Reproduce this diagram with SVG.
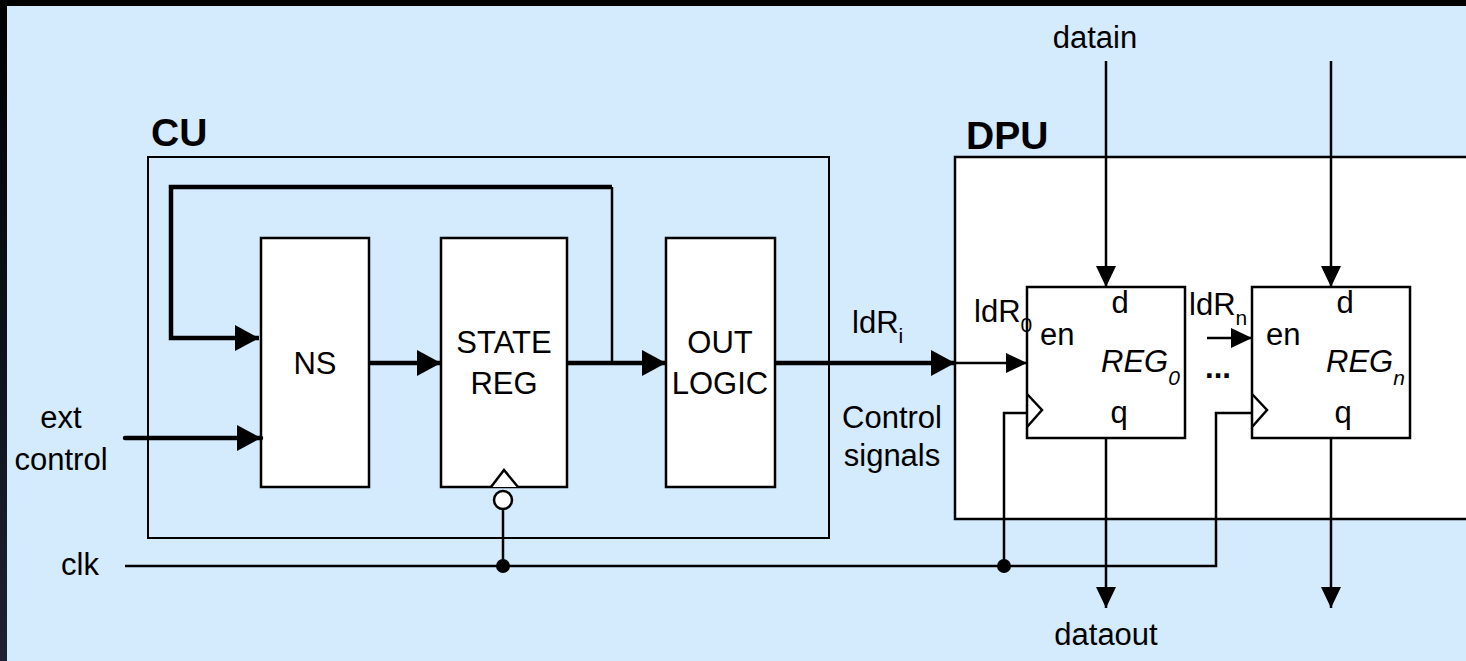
<svg xmlns="http://www.w3.org/2000/svg" width="1466" height="661" viewBox="0 0 1466 661">
<style>
.t{font-family:"Liberation Sans",Arial,sans-serif;font-size:31px;fill:#000}
.b{font-weight:bold;font-size:39px}
.i{font-style:italic}
.sub{font-size:21px}
.box{fill:#fff;stroke:#000;stroke-width:2.5}
.frame{fill:none;stroke:#000;stroke-width:2}
.thick{fill:none;stroke:#000;stroke-width:4.5}
.thin{fill:none;stroke:#000;stroke-width:2.5}
</style>
<defs>
<linearGradient id="lg" x1="0" y1="0" x2="0" y2="1">
<stop offset="0" stop-color="#000"/>
<stop offset="1" stop-color="#1c2233"/>
</linearGradient>
<marker id="ah" markerUnits="userSpaceOnUse" markerWidth="24" markerHeight="26" refX="24" refY="13" orient="auto"><path d="M0,0 L24,13 L0,26 z" fill="#000"/></marker>
<marker id="as" markerUnits="userSpaceOnUse" markerWidth="21" markerHeight="20" refX="21" refY="10" orient="auto"><path d="M0,0 L21,10 L0,20 z" fill="#000"/></marker>
</defs>
<rect x="0" y="0" width="1466" height="661" fill="#D4EAFD"/>
<rect x="0" y="0" width="1466" height="6" fill="#000"/>
<rect x="0" y="0" width="7" height="661" fill="url(#lg)"/>

<g id="cu">
<rect class="frame" x="148" y="157" width="681" height="381"/>
<text class="t b" x="151" y="146">CU</text>
</g>
<g id="dpu">
<rect x="955" y="157" width="520" height="362" fill="#fff" stroke="#000" stroke-width="2.5"/>
<text class="t b" x="966" y="149">DPU</text>
</g>

<g id="ns">
<rect class="box" x="261" y="238" width="108" height="249"/>
<text class="t" x="315" y="374" text-anchor="middle">NS</text>
</g>
<g id="statereg">
<rect class="box" x="441" y="238" width="126" height="249"/>
<text class="t" x="504" y="353" text-anchor="middle">STATE</text>
<text class="t" x="504" y="394" text-anchor="middle">REG</text>
<path d="M491,487 L504,470 L518,487" fill="#fff" stroke="#000" stroke-width="2.5"/>
<circle cx="503" cy="500" r="9" fill="#fff" stroke="#000" stroke-width="2.5"/>
</g>
<g id="outlogic">
<rect class="box" x="666" y="238" width="109" height="249"/>
<text class="t" x="720" y="353" text-anchor="middle">OUT</text>
<text class="t" x="720" y="394" text-anchor="middle">LOGIC</text>
</g>
<g id="reg0">
<rect class="box" x="1027" y="287" width="158" height="151"/>
<text class="t" x="1120" y="313" text-anchor="middle">d</text>
<text class="t" x="1040" y="345">en</text>
<text class="t i" x="1101" y="372">REG<tspan class="sub" dy="13">0</tspan></text>
<text class="t" x="1119" y="423" text-anchor="middle">q</text>
<path d="M1027,394 L1042,410 L1027,427" fill="none" stroke="#000" stroke-width="2.5"/>
</g>
<g id="regn">
<rect class="box" x="1252" y="287" width="158" height="151"/>
<text class="t" x="1345" y="313" text-anchor="middle">d</text>
<text class="t" x="1266" y="345">en</text>
<text class="t i" x="1326" y="372">REG<tspan class="sub" dy="13">n</tspan></text>
<text class="t" x="1343" y="423" text-anchor="middle">q</text>
<path d="M1252,394 L1267,410 L1252,427" fill="none" stroke="#000" stroke-width="2.5"/>
</g>

<g id="labels">
<text class="t" x="61" y="428" text-anchor="middle">ext</text>
<text class="t" x="61" y="470" text-anchor="middle">control</text>
<text class="t" x="80" y="575" text-anchor="middle">clk</text>
<text class="t" x="852" y="333">ldR<tspan class="sub" dy="10">i</tspan></text>
<text class="t" x="892" y="428" text-anchor="middle">Control</text>
<text class="t" x="892" y="466" text-anchor="middle">signals</text>
<text class="t" x="974" y="322">ldR<tspan class="sub" dy="10">0</tspan></text>
<text class="t" x="1189" y="315">ldR<tspan class="sub" dy="10">n</tspan></text>
<text class="t" x="1218" y="378" text-anchor="middle" font-weight="bold" font-size="34">...</text>
<text class="t" x="1095" y="48" text-anchor="middle">datain</text>
<text class="t" x="1106" y="645" text-anchor="middle">dataout</text>
</g>

<g id="connectors">
<path class="thin" d="M612,187 V363"/>
<path class="thick" d="M612,187 H171 V338 H259" marker-end="url(#ah)"/>
<path class="thick" d="M369,363 H441" marker-end="url(#ah)"/>
<path class="thick" d="M567,363 H666" marker-end="url(#ah)"/>
<path class="thick" d="M775,363 H955" marker-end="url(#ah)"/>
<path class="thin" d="M955,363 H1027" marker-end="url(#as)"/>
<path class="thick" d="M125,438 H261" stroke-linecap="round" marker-end="url(#ah)"/>
<path class="thin" d="M1106,61 V287" marker-end="url(#as)"/>
<path class="thin" d="M1331,61 V287" marker-end="url(#as)"/>
<path class="thin" d="M1106,438 V608" marker-end="url(#as)"/>
<path class="thin" d="M1331,438 V608" marker-end="url(#as)"/>
<path class="thin" d="M1207,338 H1252" marker-end="url(#as)"/>
<path class="thin" d="M125,566 H1216 V413 H1252"/>
<path class="thin" d="M1004,566 V413 H1027"/>
<path class="thin" d="M503,566 V509"/>
<circle cx="503" cy="566" r="7" fill="#000"/>
<circle cx="1004" cy="566" r="7" fill="#000"/>
</g>
</svg>
